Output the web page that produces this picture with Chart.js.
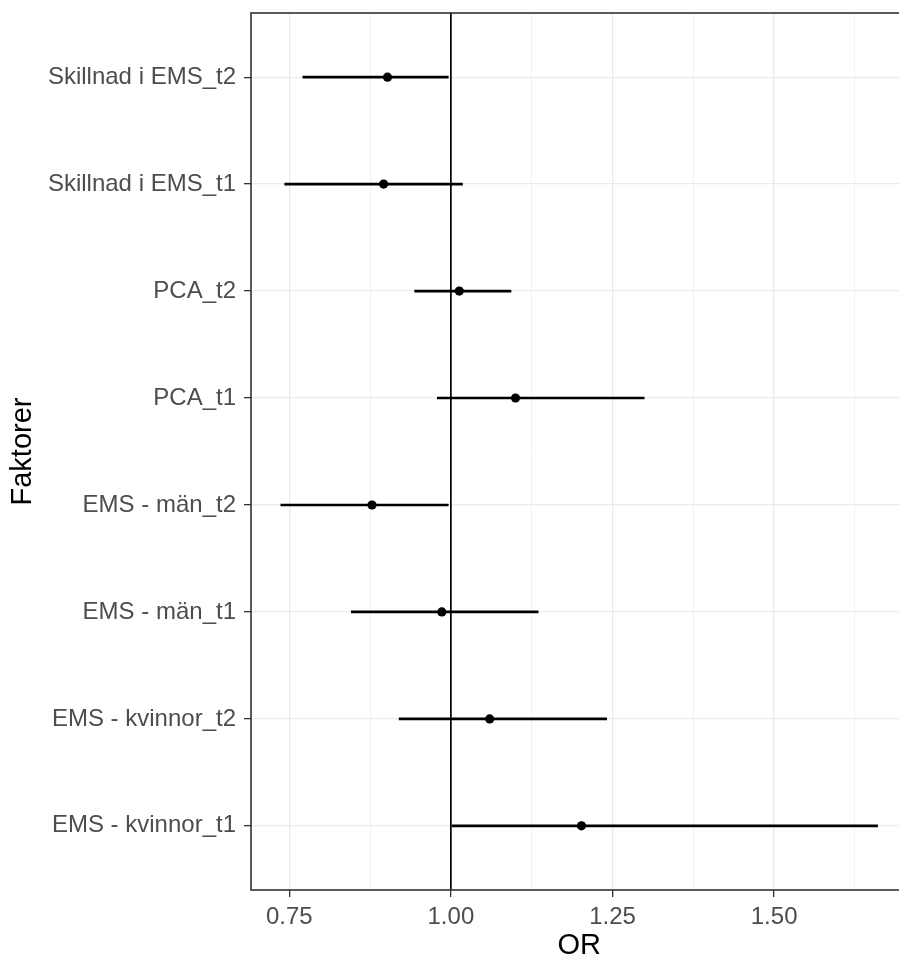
<!DOCTYPE html>
<html>
<head>
<meta charset="utf-8">
<script src="https://cdn.jsdelivr.net/npm/chart.js@4"></script>
<style>
  html, body { margin: 0; padding: 0; background: #ffffff; overflow: hidden; width: 899px; height: 963px; }
  #wrap { width: 912px; height: 963px; position: relative; }
</style>
</head>
<body>
<div id="wrap"><canvas id="c"></canvas></div>
<script>
// Factors, listed from bottom (position 1) to top (position 8)
const categories = [
  'EMS - kvinnor_t1',
  'EMS - kvinnor_t2',
  'EMS - män_t1',
  'EMS - män_t2',
  'PCA_t1',
  'PCA_t2',
  'Skillnad i EMS_t1',
  'Skillnad i EMS_t2'
];
const orValues = [1.202, 1.060, 0.986, 0.878, 1.100, 1.013, 0.896, 0.902];
const ciLower  = [1.002, 0.920, 0.846, 0.737, 0.979, 0.944, 0.743, 0.771];
const ciUpper  = [1.660, 1.241, 1.135, 0.996, 1.299, 1.093, 1.018, 0.996];
const refLine = 1.0;

const xMajorTicks = [0.75, 1.00, 1.25, 1.50];
const xTickLabels = ['0.75', '1.00', '1.25', '1.50'];
const xMinorTicks = [0.875, 1.125, 1.375, 1.625];
const xTitle = 'OR';
const yTitle = 'Faktorer';

// ggplot-style expansion of the data range
const dataMin = Math.min(...ciLower), dataMax = Math.max(...ciUpper);
const xPad = (dataMax - dataMin) * 0.05;
const positions = categories.map((_, i) => i + 1);

const isMajor = v => xMajorTicks.some(t => Math.abs(t - v) < 1e-6);

const panelBorder = {
  id: 'panelBorder',
  afterDraw(chart) {
    const {ctx, chartArea: a} = chart;
    ctx.save();
    ctx.strokeStyle = '#333333';
    ctx.lineWidth = 1.6;
    ctx.strokeRect(a.left, a.top, a.right - a.left, a.bottom - a.top);
    ctx.restore();
  }
};

const tickFont = { family: '"Liberation Sans", Arial, sans-serif', size: 24 };
const titleFont = { family: '"Liberation Sans", Arial, sans-serif', size: 29 };

new Chart(document.getElementById('c'), {
  type: 'scatter',
  data: {
    datasets: [
      {
        type: 'scatter',
        label: 'OR',
        data: positions.map((p, i) => ({ x: orValues[i], y: p })),
        backgroundColor: '#000000',
        borderColor: '#000000',
        borderWidth: 0,
        pointRadius: 4.6,
        order: 0
      },
      {
        type: 'bar',
        label: 'CI',
        indexAxis: 'y',
        data: positions.map((p, i) => ({ x: [ciLower[i], ciUpper[i]], y: p })),
        backgroundColor: '#000000',
        borderWidth: 0,
        barThickness: 2,
        order: 1
      },
      {
        type: 'line',
        label: 'ref',
        data: [{ x: refLine, y: 0.4 }, { x: refLine, y: categories.length + 0.6 }],
        borderColor: '#000000',
        borderWidth: 1.7,
        pointRadius: 0,
        order: 2
      }
    ]
  },
  options: {
    responsive: true,
    maintainAspectRatio: false,
    animation: false,
    devicePixelRatio: 1,
    layout: { padding: { top: 13, left: 0, right: 1.5, bottom: 0 } },
    plugins: { legend: { display: false }, tooltip: { enabled: false } },
    scales: {
      x: {
        type: 'linear',
        min: dataMin - xPad,
        max: dataMax + xPad,
        beginAtZero: false,
        offset: false,
        afterBuildTicks(scale) {
          scale.ticks = [...xMajorTicks, ...xMinorTicks].sort((a, b) => a - b).map(v => ({ value: v }));
        },
        afterFit(scale) {
          scale.height = 73;
          scale.paddingLeft = 0; scale.paddingRight = 0;
        },
        border: { display: false },
        grid: {
          color: ctx => isMajor(ctx.tick.value) ? '#EBEBEB' : '#F2F2F2',
          lineWidth: ctx => isMajor(ctx.tick.value) ? 1.3 : 1,
          tickColor: ctx => isMajor(ctx.tick.value) ? '#333333' : 'rgba(0,0,0,0)',
          tickLength: 7,
          tickWidth: 1.3,
          offset: false
        },
        ticks: {
          autoSkip: false,
          maxRotation: 0,
          padding: 6,
          color: '#4D4D4D',
          font: tickFont,
          callback: v => {
            const k = xMajorTicks.findIndex(t => Math.abs(t - v) < 1e-6);
            return k >= 0 ? xTickLabels[k] : '';
          }
        },
        title: { display: true, text: xTitle, color: '#000000', font: titleFont, padding: { top: 0, bottom: 0 } }
      },
      y: {
        type: 'linear',
        min: 0.4,
        max: categories.length + 0.6,
        offset: false,
        afterBuildTicks(scale) {
          scale.ticks = positions.map(p => ({ value: p }));
        },
        afterFit(scale) {
          scale.width = 251;
          scale.paddingTop = 0; scale.paddingBottom = 0;
        },
        border: { display: false },
        grid: {
          color: '#EBEBEB',
          lineWidth: 1.3,
          tickColor: '#333333',
          tickLength: 7,
          tickWidth: 1.3,
          offset: false
        },
        ticks: {
          autoSkip: false,
          padding: 8,
          color: '#4D4D4D',
          font: tickFont,
          callback: v => categories[Math.round(v) - 1] || ''
        },
        title: { display: true, text: yTitle, color: '#000000', font: titleFont, padding: { top: 6, bottom: 0 } }
      }
    }
  },
  plugins: [panelBorder]
});
</script>
</body>
</html>
